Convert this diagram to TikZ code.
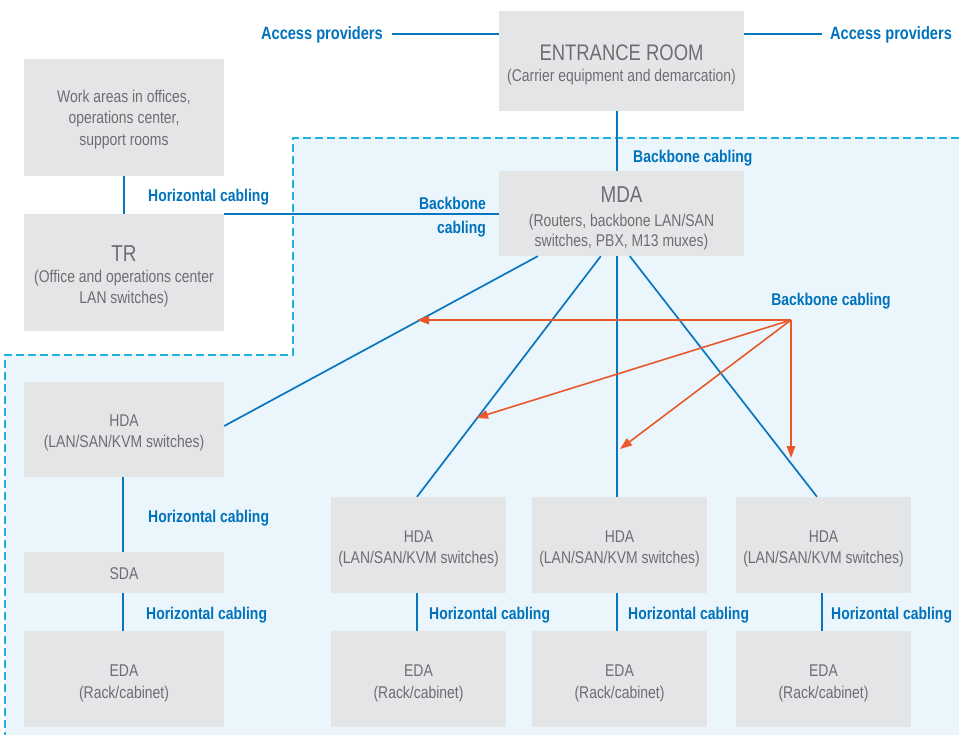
\documentclass[tikz,border=0pt]{standalone}
\usepackage{fontspec}
\setmainfont{Liberation Sans}[FakeStretch=0.82]
\usetikzlibrary{arrows.meta}
\definecolor{boxgray}{HTML}{E4E5E6}
\definecolor{txtgray}{HTML}{6D6E71}
\definecolor{cblue}{HTML}{0A76BF}
\definecolor{lblue}{HTML}{0072BC}
\definecolor{corange}{HTML}{E9572B}
\definecolor{dcyan}{HTML}{1EB4E2}
\definecolor{lfill}{HTML}{EAF6FB}
\newcommand{\tpad}[1]{\rule{0pt}{#1pt}}
\begin{document}
\begin{tikzpicture}[x=1pt,y=-1pt,
  box/.style={fill=boxgray, text=txtgray, align=center, inner sep=0pt, font=\fontsize{17}{21}\selectfont},
  lbl/.style={text=lblue, font=\bfseries\fontsize{17}{24}\selectfont, inner sep=0pt},
  cable/.style={draw=cblue, line width=1.7pt},
  arr/.style={draw=corange, line width=1.6pt, -{Triangle[length=12pt,width=8.5pt]}},
  dashborder/.style={draw=dcyan, line width=1.6pt, dash pattern=on 8pt off 4pt},
]
\useasboundingbox (0,0) rectangle (959,735);
\fill[lfill] (293,138) -- (959,138) -- (959,735) -- (5,735) -- (5,355) -- (293,355) -- cycle;
\draw[dashborder] (959,138) -- (293,138) -- (293,355) -- (5,355) -- (5,735);

% boxes
\node[box, minimum width=245pt, minimum height=100pt] (er) at (621.5,61)
  {\tpad{23}{\fontsize{22.5}{25}\selectfont ENTRANCE ROOM}\\ (Carrier equipment and demarcation)};
\node[box, minimum width=245pt, minimum height=85pt, font=\fontsize{17}{20}\selectfont] (mda) at (621.5,213.5)
  {\tpad{25}{\fontsize{23}{25}\selectfont MDA}\\[4pt] (Routers, backbone LAN/SAN\\ switches, PBX, M13 muxes)};
\node[box, minimum width=200pt, minimum height=117pt] (work) at (124,117.5)
  {\tpad{16.5}Work areas in offices,\\[0.5pt] operations center,\\[0.5pt] support rooms};
\node[box, minimum width=200pt, minimum height=117pt] (tr) at (124,272.5)
  {\tpad{24.5}{\fontsize{23}{25}\selectfont TR}\\ (Office and operations center\\ LAN switches)};
\node[box, minimum width=200pt, minimum height=95pt] (hda1) at (124,429.5)
  {\tpad{19}HDA\\ (LAN/SAN/KVM switches)};
\node[box, minimum width=200pt, minimum height=41pt] (sda) at (124,572.5) {\tpad{14.2}SDA};
\node[box, minimum width=200pt, minimum height=96pt] (eda1) at (124,679)
  {\tpad{20}EDA\\[1pt] (Rack/cabinet)};
\node[box, minimum width=175pt, minimum height=96pt] (hda2) at (418.5,545)
  {\tpad{19}HDA\\ (LAN/SAN/KVM switches)};
\node[box, minimum width=175pt, minimum height=96pt] (hda3) at (619.5,545)
  {\tpad{19}HDA\\ (LAN/SAN/KVM switches)};
\node[box, minimum width=175pt, minimum height=96pt] (hda4) at (823.5,545)
  {\tpad{19}HDA\\ (LAN/SAN/KVM switches)};
\node[box, minimum width=175pt, minimum height=96pt] (eda2) at (418.5,679)
  {\tpad{20}EDA\\[1pt] (Rack/cabinet)};
\node[box, minimum width=175pt, minimum height=96pt] (eda3) at (619.5,679)
  {\tpad{20}EDA\\[1pt] (Rack/cabinet)};
\node[box, minimum width=175pt, minimum height=96pt] (eda4) at (823.5,679)
  {\tpad{20}EDA\\[1pt] (Rack/cabinet)};

% labels
\node[lbl, anchor=east, font=\bfseries\fontsize{17.8}{24}\selectfont] (al) at (383,35) {Access providers};
\node[lbl, anchor=west, font=\bfseries\fontsize{17.8}{24}\selectfont] (ar) at (830,35) {Access providers};
\node[lbl, anchor=west] (lbb1) at (633,158) {Backbone cabling};
\node[lbl, anchor=east, align=right] (lbb2) at (486,217) {Backbone\\ cabling};
\node[lbl] (lbb3) at (831,301) {Backbone cabling};
\node[lbl, anchor=west] (lh1) at (148,197) {Horizontal cabling};
\node[lbl, anchor=west] (lh2) at (148,518) {Horizontal cabling};
\node[lbl, anchor=west] (lh3) at (146,615) {Horizontal cabling};
\node[lbl, anchor=west] (lh4) at (429,615) {Horizontal cabling};
\node[lbl, anchor=west] (lh5) at (628,615) {Horizontal cabling};
\node[lbl, anchor=west] (lh6) at (831,615) {Horizontal cabling};

% coordinates
\coordinate (vx) at (617,0);
\coordinate (ay) at (0,34);
\coordinate (bbsrc) at (791,320);
\coordinate (t1) at (417,320);
\coordinate (t2) at (476,418);
\coordinate (t3) at (620,449);
\coordinate (t4) at (791,458);

% cables
\draw[cable] ([xshift=9pt]al.east |- ay) -- (er.west |- ay);
\draw[cable] (er.east |- ay) -- ([xshift=-8pt]ar.west |- ay);
\draw[cable] (er.south -| vx) -- (mda.north -| vx);
\draw[cable] (mda.south -| vx) -- (hda3.north -| vx);
\draw[cable] (work.south) -- (tr.north);
\draw[cable] (tr.north east) -- (tr.north east -| mda.west);
\draw[cable] ([xshift=39pt]mda.south west) -- ([yshift=3.5pt]hda1.east);
\draw[cable] ([xshift=102pt]mda.south west) -- ([xshift=-1.5pt]hda2.north);
\draw[cable] ([xshift=131pt]mda.south west) -- ([xshift=-6.5pt]hda4.north);
\draw[cable] ([xshift=-1pt]hda1.south) -- ([xshift=-1pt]sda.north);
\draw[cable] ([xshift=-1pt]sda.south) -- ([xshift=-1pt]eda1.north);
\draw[cable] ([xshift=-1.5pt]hda2.south) -- ([xshift=-1.5pt]eda2.north);
\draw[cable] (hda3.south -| vx) -- (eda3.north -| vx);
\draw[cable] ([xshift=-1.5pt]hda4.south) -- ([xshift=-1.5pt]eda4.north);

% orange arrows
\draw[arr] (bbsrc) -- (t1);
\draw[arr] (bbsrc) -- (t2);
\draw[arr] (bbsrc) -- (t3);
\draw[arr] (bbsrc) -- (t4);
\end{tikzpicture}
\end{document}
